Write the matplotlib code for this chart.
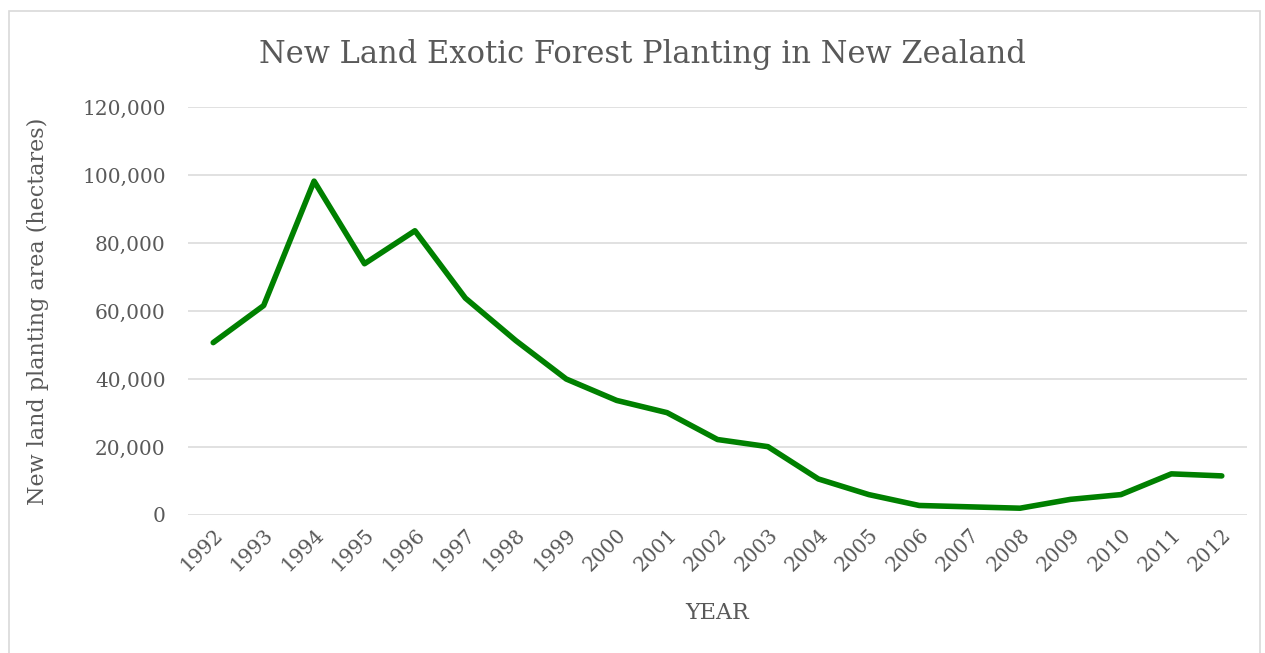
import matplotlib
matplotlib.use("Agg")
import matplotlib.pyplot as plt
from matplotlib.patches import Rectangle
from matplotlib.ticker import FuncFormatter

years = [str(y) for y in range(1992, 2013)]
hectares = [50700, 61600, 98200, 73900, 83600, 63800, 51300, 40000, 33700, 30100,
            22200, 20100, 10600, 6000, 2800, 2400, 2000, 4600, 6000, 12100, 11500]

TEXT = "#595959"
GRID = "#d9d9d9"
plt.rcParams["font.family"] = ["DejaVu Serif"]

fig = plt.figure(figsize=(12.65, 6.53), dpi=100)
ax = fig.add_axes([188 / 1265, 1 - 515 / 653, (1247 - 188) / 1265, (515 - 107) / 653])

# thin frame around the whole chart area
fig.patches.append(Rectangle((9 / 1265, -0.02), (1260 - 9) / 1265, 1 - 11 / 653 + 0.02,
                             transform=fig.transFigure, fill=False,
                             edgecolor=GRID, linewidth=1.2))

x = range(len(years))
ax.plot(x, hectares, color="#008000", linewidth=4.0, solid_joinstyle="round",
        solid_capstyle="round", zorder=3)

ax.set_xlim(-0.5, len(years) - 0.5)
ax.set_ylim(0, 120000)
ax.set_yticks(range(0, 120001, 20000))
ax.yaxis.set_major_formatter(FuncFormatter(lambda v, p: f"{int(v):,}"))
ax.set_xticks(list(x))
ax.set_xticklabels(years, rotation=45, ha="right", rotation_mode="anchor")

ax.grid(axis="y", color=GRID, linewidth=1.1, zorder=0)
for s in ax.spines.values():
    s.set_visible(False)
ax.tick_params(length=0, colors=TEXT, labelsize=14.5)
ax.tick_params(axis="y", pad=16)
ax.tick_params(axis="x", pad=7)

ax.set_ylabel("New land planting area (hectares)", color=TEXT, fontsize=16, labelpad=24)
ax.set_xlabel("YEAR", color=TEXT, fontsize=16, labelpad=20)
fig.text(642 / 1265, 1 - 54 / 653, "New Land Exotic Forest Planting in New Zealand",
         ha="center", va="center", color=TEXT, fontsize=22)

fig.savefig("out.png", dpi=100)
